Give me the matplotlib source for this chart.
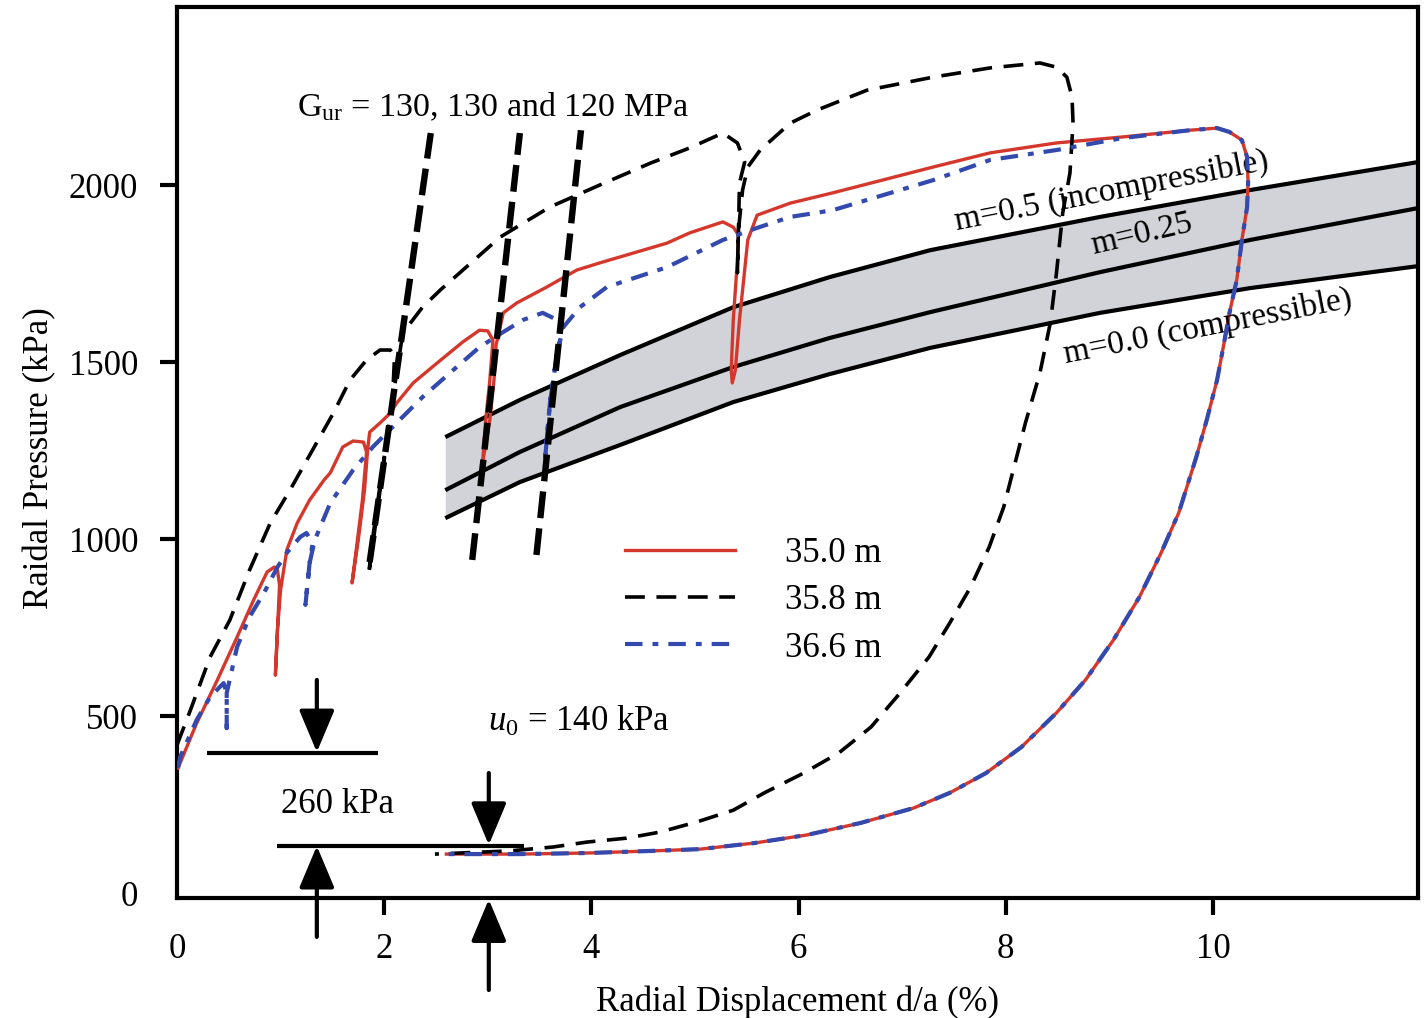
import numpy as np
import matplotlib.pyplot as plt

plt.rcParams['font.family'] = ['Liberation Serif', 'DejaVu Serif']
plt.rcParams['mathtext.fontset'] = 'custom'
plt.rcParams['mathtext.rm'] = 'Liberation Serif'
plt.rcParams['mathtext.it'] = 'Liberation Serif:italic'

# radial displacement d/a (%) and radial pressure (kPa)
red_x = [0.01, 0.03, 0.19, 0.39, 0.58, 0.74, 0.87, 0.94, 0.97, 0.99, 0.97, 0.95, 0.97, 1.00,
         1.03, 1.06, 1.16, 1.28, 1.42, 1.48, 1.60, 1.70, 1.80, 1.83, 1.79, 1.73, 1.69, 1.75,
         1.81, 1.84, 1.86, 1.96, 2.06, 2.12, 2.28, 2.51, 2.76, 2.92, 3.00, 3.05, 3.02, 2.98,
         2.95, 3.02, 3.06, 3.08, 3.15, 3.28, 3.57, 3.86, 4.08, 4.73, 4.95, 5.27, 5.37, 5.42,
         5.41, 5.37, 5.35, 5.36, 5.39, 5.43, 5.48, 5.51, 5.60, 5.92, 6.33, 7.30, 7.85, 8.49,
         9.13, 9.78, 10.04, 10.16, 10.28, 10.33, 10.34, 10.33, 10.28, 10.23, 10.16, 10.10,
         10.04, 9.94, 9.84, 9.67, 9.50, 9.29, 9.04, 8.77, 8.49, 8.15, 7.81, 7.46, 7.11, 6.60,
         6.08, 5.57, 5.05, 4.59, 3.96, 3.31, 2.60]
red_y = [353, 367, 480, 602, 723, 828, 907, 921, 912, 870, 743, 616, 743, 856,
         912, 969, 1045, 1110, 1167, 1187, 1260, 1277, 1274, 1246, 1110, 969, 876, 997,
         1138, 1251, 1302, 1328, 1356, 1384, 1441, 1497, 1557, 1590, 1588, 1562, 1449, 1336,
         1215, 1336, 1449, 1548, 1639, 1667, 1712, 1760, 1780, 1836, 1865, 1896, 1881, 1859,
         1788, 1619, 1477, 1441, 1477, 1619, 1760, 1845, 1915, 1949, 1978, 2051, 2091, 2119,
         2136, 2155, 2161, 2150, 2127, 2079, 2006, 1938, 1845, 1732, 1639, 1542,
         1449, 1336, 1232, 1074, 961, 836, 715, 602, 509, 412, 339, 283, 240, 198,
         164, 141, 124, 119, 113, 110, 110]

blue_x = [0.01, 0.03, 0.19, 0.32, 0.45, 0.48, 0.48, 0.48, 0.58, 0.70, 0.84, 0.97, 1.06,
          1.19, 1.25, 1.31, 1.28, 1.24, 1.28, 1.33, 1.48, 1.70, 1.89, 2.12, 2.37, 2.70,
          2.92, 3.15, 3.34, 3.53, 3.67, 3.72, 3.67, 3.60, 3.55, 3.60, 3.67, 3.73, 3.89,
          4.15, 4.73, 5.27, 5.60, 5.92, 6.33, 7.30, 7.85, 8.49, 9.13, 9.78, 10.04, 10.16,
          10.28, 10.33, 10.34, 10.33, 10.28, 10.23, 10.16, 10.10, 10.04, 9.94, 9.84, 9.67,
          9.50, 9.29, 9.04, 8.77, 8.49, 8.15, 7.81, 7.46, 7.11, 6.60, 6.08, 5.57, 5.05,
          4.59, 3.96, 3.31, 2.60]
blue_y = [353, 384, 489, 554, 593, 565, 466, 565, 695, 780, 848, 921, 961,
          1006, 1017, 989, 932, 814, 932, 997, 1102, 1195, 1260, 1328, 1401, 1486,
          1542, 1585, 1619, 1639, 1619, 1590, 1526, 1384, 1215, 1384, 1526, 1599, 1655,
          1712, 1768, 1845, 1879, 1910, 1929, 2014, 2071, 2099, 2133, 2155, 2161, 2150,
          2127, 2079, 2006, 1938, 1845, 1732, 1639, 1542, 1449, 1336, 1232, 1074,
          961, 836, 715, 602, 509, 412, 339, 283, 240, 198, 164, 141, 124,
          119, 113, 110, 110]

black_x = [0.00, 0.13, 0.32, 0.51, 0.70, 0.90, 1.09, 1.51, 1.67, 1.83, 1.96, 2.06, 2.10,
           2.08, 2.01, 1.94, 1.88, 1.85, 1.89, 1.96, 2.04, 2.11, 2.18, 2.37, 2.54, 2.76,
           3.12, 3.60, 4.08, 4.57, 4.95, 5.27, 5.41, 5.48, 5.43, 5.42, 5.41, 5.42, 5.46,
           5.51, 5.63, 5.92, 6.18, 6.66, 7.30, 7.85, 8.33, 8.49, 8.59, 8.64, 8.65, 8.62,
           8.55, 8.49, 8.43, 8.33, 8.19, 8.08, 7.98, 7.84, 7.66, 7.46, 7.26, 6.98, 6.70,
           6.39, 6.05, 5.67, 5.37, 5.02, 4.66, 4.34, 3.96, 3.63, 3.21, 2.49]
black_y = [418, 517, 667, 771, 912, 1045, 1138, 1356, 1449, 1506, 1534, 1534, 1514,
           1393, 1251, 1110, 983, 898, 983, 1138, 1308, 1449, 1582, 1655, 1703, 1760,
           1853, 1938, 2000, 2062, 2105, 2147, 2119, 2065, 2006, 1873, 1752, 1873, 1986,
           2051, 2099, 2175, 2212, 2268, 2305, 2331, 2345, 2333, 2305, 2249, 2175, 2034,
           1921, 1752, 1610, 1469, 1328, 1203, 1090, 977, 864, 763, 667, 565, 469,
           396, 339, 283, 234, 201, 172, 155, 144, 130, 119, 110]

# unload-reload stiffness lines (Gur = 130, 130, 120 MPa)
gur_x = [[1.86, 2.45], [2.85, 3.31], [3.47, 3.90]]
gur_y = [[935, 2147], [941, 2147], [955, 2155]]

# analytical band, m = 0.5 / 0.25 / 0.0
band_x = [2.59, 3.31, 4.28, 5.37, 6.30, 7.27, 8.91, 10.36, 11.98]
band_top = [1288, 1393, 1520, 1655, 1740, 1816, 1910, 1986, 2065]
band_mid = [1138, 1246, 1373, 1486, 1568, 1641, 1754, 1845, 1935]
band_bot = [1059, 1161, 1266, 1387, 1466, 1540, 1639, 1709, 1771]

FS = 25

fig = plt.figure(figsize=(14.25, 10.18), dpi=100)
ax = fig.add_axes([0.1242, 0.1179, 0.8709, 0.8752])

ax.fill_between(band_x, band_bot, band_top, color='#d2d3d8', lw=0, zorder=1)
for yy in (band_top, band_mid, band_bot):
    ax.plot(band_x, yy, color='black', lw=3, solid_capstyle='butt', zorder=2)

red = '#d4372c'
blue = '#3349ad'
ax.plot(red_x, red_y, color=red, lw=2.4, zorder=3, label='35.0 m')
ax.plot(black_x, black_y, color='black', lw=2.6, dashes=(5.5, 3.2), zorder=4, label='35.8 m')
ax.plot(blue_x, blue_y, color=blue, lw=3.0, dashes=(4.2, 2.4, 1.4, 2.4), zorder=4,
        label='36.6 m')
for gx, gy in zip(gur_x, gur_y):
    ax.plot(gx, gy, color='black', lw=4.6, dashes=(4.2, 1.6), zorder=5)

ax.set_xlim(0, 11.98)
ax.set_ylim(-14, 2503)
ax.set_xticks([0, 2, 4, 6, 8, 10])
ax.set_yticks([0, 500, 1000, 1500, 2000])
ax.tick_params(direction='out', length=12, width=3, labelsize=FS)
ax.tick_params(axis='x', pad=13)
ax.tick_params(axis='y', pad=16)
ax.xaxis.get_major_ticks()[0].tick1line.set_visible(False)
ax.yaxis.get_major_ticks()[0].tick1line.set_visible(False)
for s in ax.spines.values():
    s.set_linewidth(3)

ax.set_xlabel('Radial Displacement d/a (%)', fontsize=FS)
ax.set_ylabel('Raidal Pressure (kPa)', fontsize=FS)
ax.xaxis.set_label_coords(0.5, -0.098)
ax.yaxis.set_label_coords(-0.097, 0.494)

leg = ax.legend(loc='upper left', bbox_to_anchor=(0.361, 0.405), frameon=False,
                fontsize=FS, handlelength=3.17, handletextpad=1.44, labelspacing=0.41,
                borderpad=0, borderaxespad=0)

# text annotations
ax.text(1.16, 2220, r'G$_{\mathrm{ur}}$ = 130, 130 and 120 MPa', fontsize=24.5,
        ha='left', va='center')
ax.text(9.02, 1982, 'm=0.5 (incompressible)', fontsize=24, rotation=11,
        ha='center', va='center')
ax.text(9.31, 1861, 'm=0.25', fontsize=24, rotation=13, ha='center', va='center')
ax.text(9.95, 1599, 'm=0.0 (compressible)', fontsize=24, rotation=11,
        ha='center', va='center')
ax.text(1.55, 249, '260 kPa', fontsize=FS, ha='center', va='center')
ax.text(3.0, 483, r'$u_{0}$ = 140 kPa', fontsize=FS, ha='left', va='center')

# 260 kPa and u0 markers
ax.plot([0.29, 1.94], [396, 396], color='black', lw=3, solid_capstyle='butt')
ax.plot([0.97, 3.35], [133, 133], color='black', lw=3, solid_capstyle='butt')
arrow = dict(arrowstyle='-|>,head_length=1.0,head_width=0.42', color='black', lw=3,
             mutation_scale=26, shrinkA=0, shrinkB=0)
for tip, tail in [((1.35, 398), (1.35, 602)), ((1.35, 133), (1.35, -124)),
                  ((3.01, 136), (3.01, 339)), ((3.01, -18), (3.01, -274))]:
    ax.annotate('', xy=tip, xytext=tail, arrowprops=arrow, annotation_clip=False)

fig.savefig('out.png', dpi=100)
